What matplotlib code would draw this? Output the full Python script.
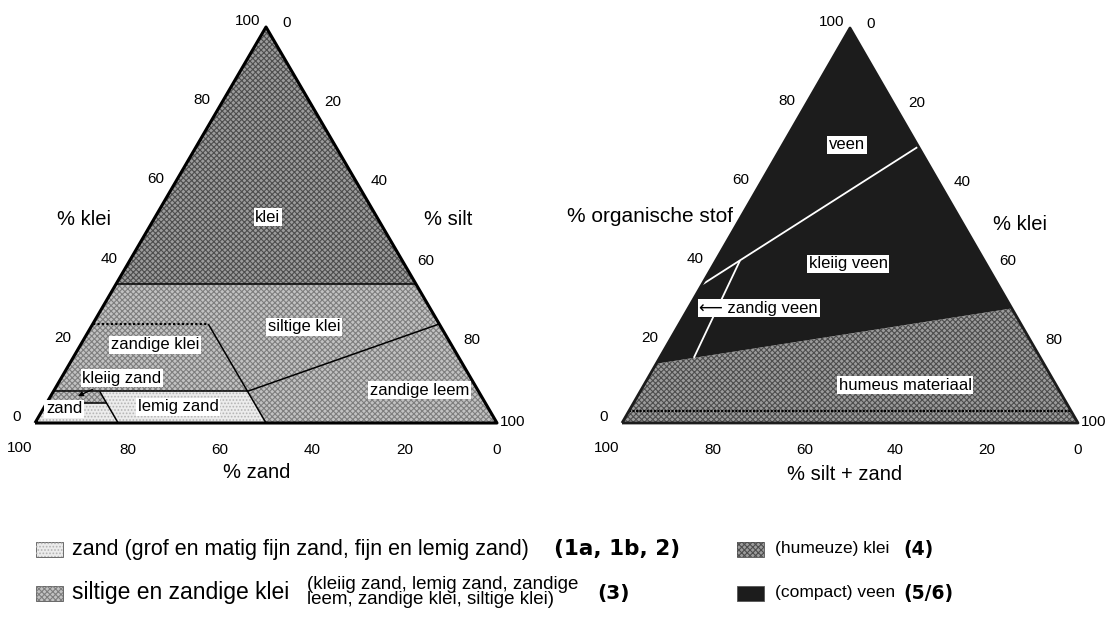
import numpy as np
import matplotlib
matplotlib.use("Agg")
import matplotlib.pyplot as plt
from matplotlib.patches import Polygon, Rectangle
from matplotlib.transforms import offset_copy

plt.rcParams['font.family'] = ['Liberation Sans', 'DejaVu Sans']
plt.rcParams['hatch.linewidth'] = 0.8

H_TRI = np.sqrt(3) / 2
FIG_W, FIG_H = 1115, 627

# ---------------------------------------------------------------------------
# Mineral texture classes, vertices given as (% klei, % zand); silt = rest
# ---------------------------------------------------------------------------
klei = [(35, 65), (100, 0), (35, 0)]
siltige_klei = [(35, 65), (35, 0), (25, 0), (8, 50), (25, 50), (25, 75)]
zandige_leem = [(25, 0), (0, 0), (0, 50), (8, 50)]
zandige_klei = [(25, 75), (25, 50), (8, 50), (8, 92)]
lemig_zand = [(8, 50), (0, 50), (0, 82), (8, 82)]
kleiig_zand = [(8, 82), (5, 82), (5, 95), (8, 92)]
zand = [(5, 82), (0, 82), (0, 100), (5, 95)]

# class boundaries drawn as lines, (% klei, % zand)
grens_klei = [(35, 65), (35, 0)]
grens_zand50 = [(25, 50), (0, 50)]
grens_lutum8 = [(8, 92), (8, 50)]
grens_leem = [(8, 50), (25, 0)]
grens_zand82 = [(8, 82), (0, 82)]
grens_lutum5 = [(5, 95), (5, 82)]
grens_lutum25 = [(25, 75), (25, 50)]

# ---------------------------------------------------------------------------
# Organic classes, vertices given as (% organische stof, % klei)
# ---------------------------------------------------------------------------
veen_zone = [(15, 0), (100, 0), (29, 71)]
humeus = [(0, 0), (15, 0), (29, 71), (0, 100)]
grens_veen = [(35, 0), (70, 30)]
grens_zandig_veen = [(41.2, 5.3), (16.5, 7.5)]
grens_mineraal = [(3, 0), (3, 97)]

tick_values = [0, 20, 40, 60, 80, 100]

# fills: (face colour, hatch colour, hatch)
STYLE_ZAND = ('#ececec', '#b4b4b4', '.....')
STYLE_SILT = ('#c2c2c2', '#7e7e7e', 'xxxxxx')
STYLE_KLEI = ('#9c9c9c', '#4e4e4e', 'xxxxxx')
STYLE_VEEN = ('#1c1c1c', None, None)

BOLD = dict(family=['DejaVu Sans'], fontweight='bold')


def xy_textuur(pts):
    """(klei, zand) -> cartesian; corners: zand bottom-left, silt bottom-right, klei top."""
    out = []
    for clay, sand in pts:
        silt = 100 - clay - sand
        out.append((silt + clay / 2, clay * H_TRI))
    return np.array(out)


def xy_organisch(pts):
    """(org, klei) -> cartesian; corners: silt+zand bottom-left, klei bottom-right, org top."""
    out = []
    for org, clay in pts:
        out.append((clay + org / 2, org * H_TRI))
    return np.array(out)


def make_axes(fig, rect, left_px, right_px, base_px, apex_px):
    ax = fig.add_axes(rect)
    x0 = rect[0] * FIG_W
    x1 = (rect[0] + rect[2]) * FIG_W
    sx = (right_px - left_px) / 100
    sy = (base_px - apex_px) / (100 * H_TRI)
    ax.set_xlim((x0 - left_px) / sx, (x1 - left_px) / sx)
    ax.set_ylim((base_px - FIG_H) / sy, base_px / sy)
    ax.axis('off')
    return ax


def fill(ax, xy, style, z=1):
    face, hcol, hatch = style
    ax.add_patch(Polygon(xy, closed=True, facecolor=face, edgecolor='none', zorder=z))
    if hatch:
        ax.add_patch(Polygon(xy, closed=True, facecolor='none', edgecolor=hcol,
                             hatch=hatch, linewidth=0, zorder=z + 0.1))


def line(ax, xy, color='black', lw=1.1, ls='-', z=3):
    ax.plot(xy[:, 0], xy[:, 1], color=color, lw=lw, ls=ls, zorder=z,
            solid_capstyle='butt')


def label(ax, x, y, s, size=12):
    ax.text(x, y, s, ha='center', va='center', fontsize=size, zorder=6,
            bbox=dict(facecolor='white', edgecolor='none', pad=1.2))


def ticks(fig, ax, to_xy, tick_size=11):
    """to_xy(v, side) gives the edge point for value v on 'l', 'r' or 'b'."""
    for v in tick_values:
        px, py = to_xy(v, 'l')
        tr = offset_copy(ax.transData, fig=fig, x=-18, y=6, units='dots')
        ax.text(px, py, str(v), transform=tr, ha='center', va='center', fontsize=tick_size)
        px, py = to_xy(v, 'r')
        dx, dy = (16, 1) if v == 100 else (21, 4)
        tr = offset_copy(ax.transData, fig=fig, x=dx, y=dy, units='dots')
        ax.text(px, py, str(v), transform=tr, ha='center', va='center', fontsize=tick_size)
        px, py = to_xy(v, 'b')
        if v == 100:
            tr = offset_copy(ax.transData, fig=fig, x=-3, y=-25, units='dots')
            ax.text(px, py, str(v), transform=tr, ha='right', va='center', fontsize=tick_size)
        else:
            tr = offset_copy(ax.transData, fig=fig, x=0, y=-27, units='dots')
            ax.text(px, py, str(v), transform=tr, ha='center', va='center', fontsize=tick_size)


fig = plt.figure(figsize=(FIG_W / 100, FIG_H / 100), dpi=100)

# ---------------------------- left: texture triangle -----------------------
axL = make_axes(fig, [0, 0, 0.5, 1], 35, 497, 423, 27)
for poly, st in [(klei, STYLE_KLEI), (siltige_klei, STYLE_SILT), (zandige_leem, STYLE_SILT),
                 (zandige_klei, STYLE_SILT), (kleiig_zand, STYLE_SILT),
                 (lemig_zand, STYLE_ZAND), (zand, STYLE_ZAND)]:
    fill(axL, xy_textuur(poly), st)
for seg in [grens_klei, grens_zand50, grens_lutum8, grens_leem, grens_zand82, grens_lutum5]:
    line(axL, xy_textuur(seg))
line(axL, xy_textuur(grens_lutum25), lw=1.6, ls=(0, (1, 1)))
outline = xy_textuur([(0, 100), (100, 0), (0, 0), (0, 100)])
line(axL, outline, lw=2.2, z=4)


def edge_textuur(v, side):
    if side == 'l':
        return xy_textuur([(v, 100 - v)])[0]
    if side == 'r':
        return xy_textuur([(100 - v, 0)])[0]
    return xy_textuur([(0, v)])[0]


ticks(fig, axL, edge_textuur)
label(axL, 50.4, 45.0, 'klei')
label(axL, 58.2, 21.0, 'siltige klei')
label(axL, 26.0, 17.1, 'zandige klei')
label(axL, 18.8, 9.8, 'kleiig zand')
label(axL, 6.3, 3.1, 'zand')
label(axL, 31.0, 3.5, 'lemig zand')
label(axL, 83.3, 7.2, 'zandige leem')
axL.annotate('', xy=xy_textuur([(6.5, 88)])[0], xytext=(13.0, 7.6),
             arrowprops=dict(arrowstyle='-|>', color='black', lw=0.9,
                             mutation_scale=7), zorder=7)
axL.text(10.6, 44.4, '% klei', ha='center', va='center', fontsize=14.5)
axL.text(89.4, 44.4, '% silt', ha='center', va='center', fontsize=14.5)
axL.text(48.0, -10.9, '% zand', ha='center', va='center', fontsize=14.5)

# ---------------------------- right: organic triangle ----------------------
axR = make_axes(fig, [0.5, 0, 0.5, 1], 622, 1078, 423, 28)
fill(axR, xy_organisch(humeus), STYLE_KLEI)
fill(axR, xy_organisch(veen_zone), STYLE_VEEN)
line(axR, xy_organisch(grens_veen), color='white', lw=1.3)
line(axR, xy_organisch(grens_zandig_veen), color='white', lw=1.3)
line(axR, xy_organisch(grens_mineraal), lw=1.5, ls=(0, (1, 0.7)))
line(axR, xy_organisch([(0, 0), (100, 0), (0, 100), (0, 0)]), color='#1c1c1c', lw=2.0, z=4)


def edge_organisch(v, side):
    if side == 'l':
        return xy_organisch([(v, 0)])[0]
    if side == 'r':
        return xy_organisch([(100 - v, v)])[0]
    return xy_organisch([(0, 100 - v)])[0]


ticks(fig, axR, edge_organisch)
label(axR, 49.3, 61.0, 'veen')
label(axR, 49.6, 34.9, 'kleiig veen')
label(axR, 30.0, 25.2, '\u27f5 zandig veen')
label(axR, 62.1, 8.3, 'humeus materiaal')
axR.text(6.1, 45.2, '% organische stof', ha='center', va='center', fontsize=15)
axR.text(87.3, 43.6, '% klei', ha='center', va='center', fontsize=14.5)
axR.text(48.9, -11.4, '% silt + zand', ha='center', va='center', fontsize=14.5)

# ---------------------------- legend ---------------------------------------
axG = fig.add_axes([0, 0, 1, 1])
axG.set_xlim(0, FIG_W)
axG.set_ylim(FIG_H, 0)
axG.axis('off')

# (swatch x, row y, fill, text, text size, code x, code size, code)
legend_rows = [
    (36, 549, STYLE_ZAND, 'zand (grof en matig fijn zand, fijn en lemig zand)', 15.5, 554, 15.5, '(1a, 1b, 2)'),
    (36, 593, STYLE_SILT, 'siltige en zandige klei', 16.5, 597, 14.5, '(3)'),
    (737, 549, STYLE_KLEI, '(humeuze) klei', 12.5, 903, 13.5, '(4)'),
    (737, 593, STYLE_VEEN, '(compact) veen', 12.5, 903, 13.5, '(5/6)'),
]
for x, y, st, txt, size, xb, bsize, code in legend_rows:
    face, hcol, hatch = st
    axG.add_patch(Rectangle((x, y - 7), 27, 15, facecolor=face, edgecolor='#555555', lw=0.6))
    if hatch:
        axG.add_patch(Rectangle((x, y - 7), 27, 15, facecolor='none', edgecolor=hcol,
                                hatch=hatch, lw=0))
    axG.text(x + 36 if x < 100 else x + 38, y, txt, ha='left', va='center', fontsize=size)
    axG.text(xb, y, code, ha='left', va='center', fontsize=bsize, **BOLD)

axG.text(307, 592, '(kleiig zand, lemig zand, zandige\nleem, zandige klei, siltige klei)',
         ha='left', va='center', fontsize=13.5, linespacing=0.85)

fig.savefig('out.png', dpi=100)
